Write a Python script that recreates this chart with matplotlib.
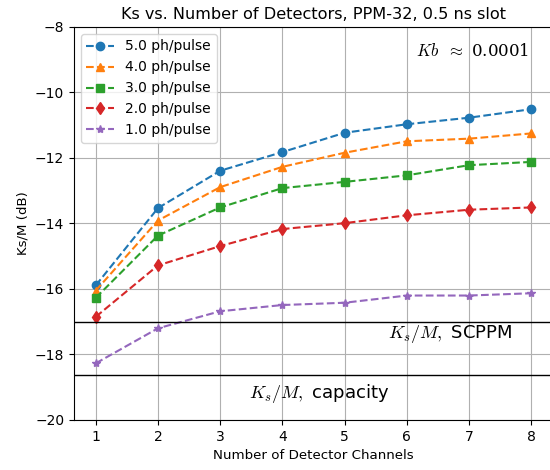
import matplotlib
matplotlib.use("Agg")
import matplotlib.pyplot as plt

channels = [1, 2, 3, 4, 5, 6, 7, 8]
ks_5 = [-15.89, -13.53, -12.39, -11.82, -11.23, -10.97, -10.77, -10.51]
ks_4 = [-16.05, -13.91, -12.89, -12.27, -11.84, -11.49, -11.41, -11.25]
ks_3 = [-16.27, -14.37, -13.51, -12.92, -12.73, -12.53, -12.22, -12.12]
ks_2 = [-16.85, -15.28, -14.69, -14.17, -13.99, -13.75, -13.58, -13.51]
ks_1 = [-18.27, -17.20, -16.68, -16.49, -16.42, -16.20, -16.20, -16.13]
labels = ["5.0 ph/pulse", "4.0 ph/pulse", "3.0 ph/pulse", "2.0 ph/pulse", "1.0 ph/pulse"]
scppm_level = -17.02
capacity_level = -18.62

plt.rcParams['mathtext.fontset'] = 'cm'

fig = plt.figure(figsize=(5.5, 4.7), dpi=100)
ax = fig.add_axes([0.1345, 0.1064, 0.871, 0.8362])

series = [ks_5, ks_4, ks_3, ks_2, ks_1]
markers = ["o", "^", "s", "d", "*"]
for ys, m, lab in zip(series, markers, labels):
    ax.plot(channels, ys, linestyle="--", marker=m, markersize=6, label=lab)

ax.axhline(scppm_level, color="black", linewidth=1)
ax.axhline(capacity_level, color="black", linewidth=1)

ax.text(5.7, -17.37, r"$K_s/M,$ SCPPM", fontsize=13, va="center")
ax.text(3.47, -19.2, r"$K_s/M,$ capacity", fontsize=13, va="center")
ax.text(6.15, -8.76, r"$Kb\ \ \approx$ 0.0001", fontsize=12, va="center",
        family="DejaVu Serif")

ax.set_xlim(0.65, 8.35)
ax.set_ylim(-20, -8)
ax.set_xticks(channels)
ax.grid(True)
ax.set_title("Ks vs. Number of Detectors, PPM-32, 0.5 ns slot", fontsize=11.6)
ax.set_xlabel("Number of Detector Channels", fontsize=9.6)
ax.set_ylabel("Ks/M (dB)", fontsize=9.6)
ax.legend(loc="upper left")

fig.savefig("out.png", dpi=100)
